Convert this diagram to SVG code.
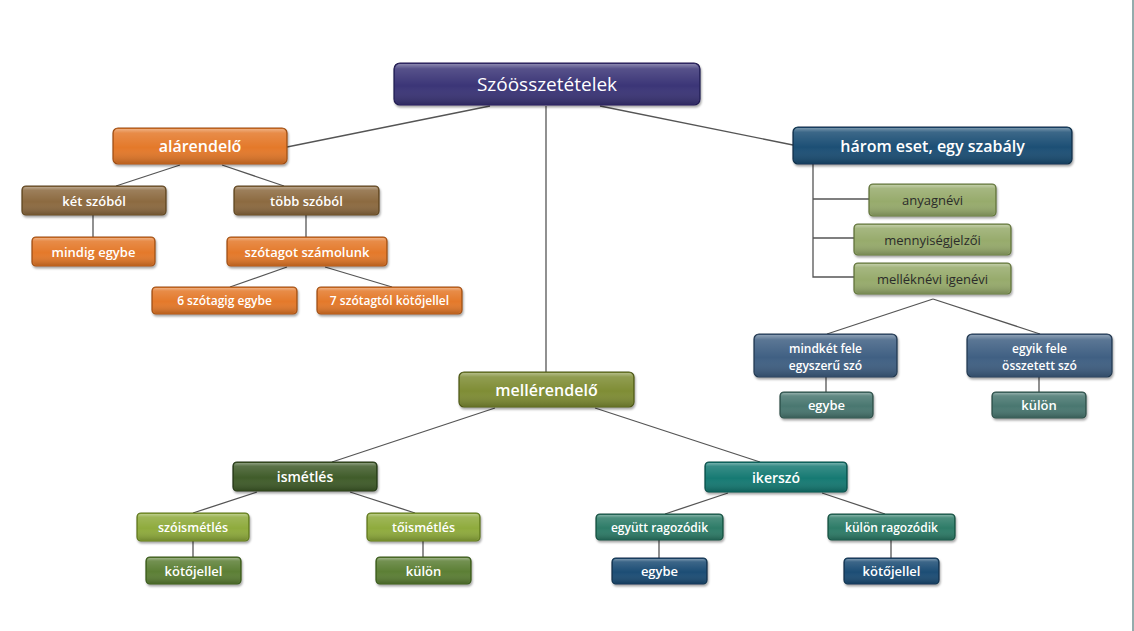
<svg xmlns="http://www.w3.org/2000/svg" width="1134" height="631" viewBox="0 0 1134 631">
<defs>
<linearGradient id="gloss" x1="0" y1="0" x2="0" y2="1">
<stop offset="0" stop-color="#fff" stop-opacity="0.4"/>
<stop offset="0.12" stop-color="#fff" stop-opacity="0.14"/>
<stop offset="0.55" stop-color="#fff" stop-opacity="0"/>
<stop offset="1" stop-color="#000" stop-opacity="0.18"/>
</linearGradient>
<filter id="sh" x="-10%" y="-20%" width="120%" height="160%">
<feDropShadow dx="1" dy="2" stdDeviation="1.2" flood-color="#000" flood-opacity="0.35"/>
</filter>
</defs>
<style>
.b{filter:url(#sh);stroke-width:1.2}
.g{fill:url(#gloss);stroke:none}
.t{font-family:"Open Sans","Liberation Sans",sans-serif;fill:#fff;text-anchor:middle;dominant-baseline:central;font-weight:600}
.r{font-weight:400}
.d{fill:#2b2b2b;font-weight:400}
.c{stroke:#555;stroke-width:1.3;fill:none}
.root{fill:#3b3477;stroke:#221d50}
.or{fill:#e4792b;stroke:#9a4c13}
.br{fill:#8c6b3f;stroke:#5a4220}
.bh{fill:#1f4f74;stroke:#0f2f48}
.lo{fill:#97ab6c;stroke:#5d6f38}
.bm{fill:#3f6083;stroke:#22384f}
.tg{fill:#4a7770;stroke:#2b4b45}
.ol{fill:#7f8d36;stroke:#4d5718}
.dg{fill:#3f5b2b;stroke:#223514}
.lg{fill:#8fab3c;stroke:#5a721c}
.mg{fill:#5b7f36;stroke:#365519}
.tl{fill:#177a73;stroke:#0a4a45}
.tm{fill:#2d7b68;stroke:#154b3d}
.db{fill:#1f4e74;stroke:#0e2f4a}
</style>
<rect x="0" y="0" width="1134" height="631" fill="#fff"/>
<line x1="1133" y1="0" x2="1133" y2="631" stroke="#6f9090" stroke-width="1.5"/>
<g id="connectors">
<line class="c" x1="490" y1="106" x2="287" y2="147"/>
<line class="c" x1="600" y1="106" x2="793" y2="145"/>
<line class="c" x1="546" y1="106" x2="546" y2="372"/>
<line class="c" x1="180" y1="165" x2="116" y2="186"/>
<line class="c" x1="222" y1="165" x2="284" y2="186"/>
<line class="c" x1="93" y1="215" x2="93" y2="237"/>
<line class="c" x1="306" y1="215" x2="306" y2="237"/>
<line class="c" x1="287" y1="267" x2="230" y2="287"/>
<line class="c" x1="325" y1="267" x2="392" y2="287"/>
<polyline class="c" points="813,164 813,277 854,277"/>
<line class="c" x1="813" y1="199" x2="869" y2="199"/>
<line class="c" x1="813" y1="238" x2="854" y2="238"/>
<line class="c" x1="933" y1="299" x2="827" y2="334"/>
<line class="c" x1="933" y1="299" x2="1040" y2="334"/>
<line class="c" x1="826" y1="377" x2="826" y2="392"/>
<line class="c" x1="1039" y1="377" x2="1039" y2="392"/>
<line class="c" x1="495" y1="408" x2="332" y2="462"/>
<line class="c" x1="595" y1="408" x2="760" y2="462"/>
<line class="c" x1="257" y1="492" x2="193" y2="513"/>
<line class="c" x1="350" y1="492" x2="415" y2="513"/>
<line class="c" x1="193" y1="541" x2="193" y2="557"/>
<line class="c" x1="423" y1="541" x2="423" y2="557"/>
<line class="c" x1="728" y1="493" x2="665" y2="514"/>
<line class="c" x1="822" y1="493" x2="885" y2="514"/>
<line class="c" x1="659" y1="540" x2="659" y2="558"/>
<line class="c" x1="891" y1="540" x2="891" y2="558"/>
</g>
<g id="n-root"><rect class="b root" x="394" y="63" width="306" height="42" rx="6"/><rect class="g" x="395" y="64" width="304" height="40" rx="5"/><text class="t r" x="547" y="84" font-size="19">Szóösszetételek</text></g>
<g id="n-alarendelo"><rect class="b or" x="113" y="128" width="174" height="36" rx="5"/><rect class="g" x="114" y="129" width="172" height="34" rx="4"/><text class="t" x="200" y="146" font-size="16">alárendelő</text></g>
<g id="n-ket"><rect class="b br" x="22" y="186" width="144" height="29" rx="4"/><rect class="g" x="23" y="187" width="142" height="27" rx="3"/><text class="t" x="94" y="200.5" font-size="13">két szóból</text></g>
<g id="n-tobb"><rect class="b br" x="234" y="186" width="145" height="29" rx="4"/><rect class="g" x="235" y="187" width="143" height="27" rx="3"/><text class="t" x="306.5" y="200.5" font-size="13">több szóból</text></g>
<g id="n-mindig"><rect class="b or" x="32" y="237" width="123" height="29" rx="4"/><rect class="g" x="33" y="238" width="121" height="27" rx="3"/><text class="t" x="93.5" y="251.5" font-size="13">mindig egybe</text></g>
<g id="n-szotagot"><rect class="b or" x="227" y="237" width="160" height="29" rx="4"/><rect class="g" x="228" y="238" width="158" height="27" rx="3"/><text class="t" x="307" y="251.5" font-size="13">szótagot számolunk</text></g>
<g id="n-6"><rect class="b or" x="152" y="287" width="145" height="27" rx="4"/><rect class="g" x="153" y="288" width="143" height="25" rx="3"/><text class="t" x="224.5" y="300.5" font-size="12">6 szótagig egybe</text></g>
<g id="n-7"><rect class="b or" x="317" y="287" width="145" height="27" rx="4"/><rect class="g" x="318" y="288" width="143" height="25" rx="3"/><text class="t" x="389.5" y="300.5" font-size="12">7 szótagtól kötőjellel</text></g>
<g id="n-harom"><rect class="b bh" x="793" y="127" width="279" height="37" rx="5"/><rect class="g" x="794" y="128" width="277" height="35" rx="4"/><text class="t" x="932.5" y="145.5" font-size="16">három eset, egy szabály</text></g>
<g id="n-anyag"><rect class="b lo" x="869" y="184" width="127" height="32" rx="4"/><rect class="g" x="870" y="185" width="125" height="30" rx="3"/><text class="t d" x="932.5" y="200" font-size="13">anyagnévi</text></g>
<g id="n-menny"><rect class="b lo" x="854" y="224" width="157" height="31" rx="4"/><rect class="g" x="855" y="225" width="155" height="29" rx="3"/><text class="t d" x="932.5" y="239.5" font-size="13">mennyiségjelzői</text></g>
<g id="n-mell"><rect class="b lo" x="854" y="263" width="157" height="31" rx="4"/><rect class="g" x="855" y="264" width="155" height="29" rx="3"/><text class="t d" x="932.5" y="278.5" font-size="13">melléknévi igenévi</text></g>
<g id="n-mindket"><rect class="b bm" x="754" y="334" width="143" height="43" rx="5"/><rect class="g" x="755" y="335" width="141" height="41" rx="4"/><text class="t" x="825.5" y="348" font-size="12">mindkét fele</text><text class="t" x="825.5" y="365" font-size="12">egyszerű szó</text></g>
<g id="n-egyik"><rect class="b bm" x="967" y="334" width="145" height="43" rx="5"/><rect class="g" x="968" y="335" width="143" height="41" rx="4"/><text class="t" x="1039.5" y="348" font-size="12">egyik fele</text><text class="t" x="1039.5" y="365" font-size="12">összetett szó</text></g>
<g id="n-egybe1"><rect class="b tg" x="780" y="392" width="93" height="26" rx="4"/><rect class="g" x="781" y="393" width="91" height="24" rx="3"/><text class="t" x="826.5" y="405" font-size="13">egybe</text></g>
<g id="n-kulon1"><rect class="b tg" x="992" y="392" width="94" height="26" rx="4"/><rect class="g" x="993" y="393" width="92" height="24" rx="3"/><text class="t" x="1039" y="405" font-size="13">külön</text></g>
<g id="n-mellerendelo"><rect class="b ol" x="459" y="372" width="175" height="35" rx="5"/><rect class="g" x="460" y="373" width="173" height="33" rx="4"/><text class="t" x="546.5" y="389.5" font-size="16">mellérendelő</text></g>
<g id="n-ismetles"><rect class="b dg" x="233" y="462" width="144" height="29" rx="4"/><rect class="g" x="234" y="463" width="142" height="27" rx="3"/><text class="t" x="305" y="476.5" font-size="14">ismétlés</text></g>
<g id="n-szoism"><rect class="b lg" x="137" y="513" width="112" height="28" rx="4"/><rect class="g" x="138" y="514" width="110" height="26" rx="3"/><text class="t" x="193" y="527" font-size="12.5">szóismétlés</text></g>
<g id="n-toism"><rect class="b lg" x="367" y="513" width="113" height="28" rx="4"/><rect class="g" x="368" y="514" width="111" height="26" rx="3"/><text class="t" x="423.5" y="527" font-size="12.5">tőismétlés</text></g>
<g id="n-kotoj1"><rect class="b mg" x="146" y="557" width="95" height="27" rx="4"/><rect class="g" x="147" y="558" width="93" height="25" rx="3"/><text class="t" x="193.5" y="570.5" font-size="13">kötőjellel</text></g>
<g id="n-kulon2"><rect class="b mg" x="376" y="557" width="95" height="27" rx="4"/><rect class="g" x="377" y="558" width="93" height="25" rx="3"/><text class="t" x="423.5" y="570.5" font-size="13">külön</text></g>
<g id="n-ikerszo"><rect class="b tl" x="705" y="462" width="142" height="30" rx="4"/><rect class="g" x="706" y="463" width="140" height="28" rx="3"/><text class="t" x="776" y="477" font-size="14">ikerszó</text></g>
<g id="n-egyutt"><rect class="b tm" x="596" y="514" width="127" height="26" rx="4"/><rect class="g" x="597" y="515" width="125" height="24" rx="3"/><text class="t" x="659.5" y="527" font-size="12">együtt ragozódik</text></g>
<g id="n-kulonrag"><rect class="b tm" x="828" y="514" width="127" height="26" rx="4"/><rect class="g" x="829" y="515" width="125" height="24" rx="3"/><text class="t" x="891.5" y="527" font-size="12">külön ragozódik</text></g>
<g id="n-egybe2"><rect class="b db" x="612" y="558" width="95" height="26" rx="4"/><rect class="g" x="613" y="559" width="93" height="24" rx="3"/><text class="t" x="659.5" y="571" font-size="13">egybe</text></g>
<g id="n-kotoj2"><rect class="b db" x="844" y="558" width="95" height="26" rx="4"/><rect class="g" x="845" y="559" width="93" height="24" rx="3"/><text class="t" x="891.5" y="571" font-size="13">kötőjellel</text></g>
</svg>
